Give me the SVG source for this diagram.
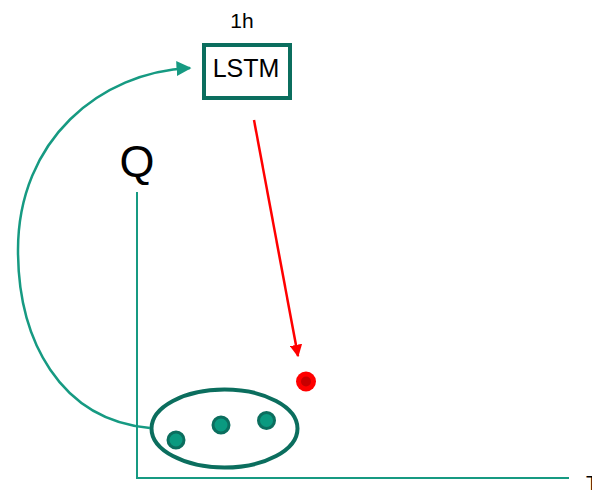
<svg xmlns="http://www.w3.org/2000/svg" width="592" height="498" viewBox="0 0 592 498">
<style>
.t{font-family:"Liberation Sans",Arial,sans-serif;fill:#000}
.ax{stroke:#169a82;stroke-width:2;fill:none}
.dk{stroke:#0b6e5e;stroke-width:4;fill:none}
.dot{fill:#0a9a80;stroke:#0b6e5e;stroke-width:3}
</style>
<defs>
<marker id="ah" viewBox="0 0 10 10" refX="9" refY="5" markerWidth="6" markerHeight="6" markerUnits="strokeWidth" orient="auto"><path d="M0,0 L10,5 L0,10 z" fill="#169a82"/></marker>
<marker id="ar" viewBox="0 0 10 10" refX="9" refY="5" markerWidth="5" markerHeight="5" markerUnits="strokeWidth" orient="auto"><path d="M0,0 L10,5 L0,10 z" fill="#ff0000"/></marker>
</defs>
<g id="axes">
<line class="ax" x1="137" y1="192" x2="137" y2="478"/>
<line class="ax" x1="136" y1="478" x2="569" y2="478"/>
<text class="t" x="137" y="177" font-size="45" text-anchor="middle">Q</text>
<text class="t" x="586" y="490" font-size="20">T</text>
</g>
<g id="lstm">
<rect class="dk" x="204" y="45" width="86" height="53"/>
<text class="t" x="246" y="77" font-size="25" text-anchor="middle">LSTM</text>
<text class="t" x="242" y="28" font-size="21" text-anchor="middle">1h</text>
</g>
<g id="group">
<ellipse class="dk" cx="224.5" cy="428.5" rx="73" ry="39"/>
<circle class="dot" cx="176" cy="440" r="8"/>
<circle class="dot" cx="221" cy="425" r="8"/>
<circle class="dot" cx="266.5" cy="420.5" r="8"/>
</g>
<g id="pred">
<circle cx="306" cy="381.5" r="10" fill="#ff0000"/>
<circle cx="306" cy="381.5" r="5" fill="#c80000"/>
</g>
<g id="connectors">
<path d="M150,428 C60,420 18,340 18,250 C18,140 100,72 190,68" fill="none" stroke="#169a82" stroke-width="2.5" marker-end="url(#ah)"/>
<line x1="254" y1="120" x2="298" y2="356" stroke="#ff0000" stroke-width="2.5" marker-end="url(#ar)"/>
</g>
</svg>
